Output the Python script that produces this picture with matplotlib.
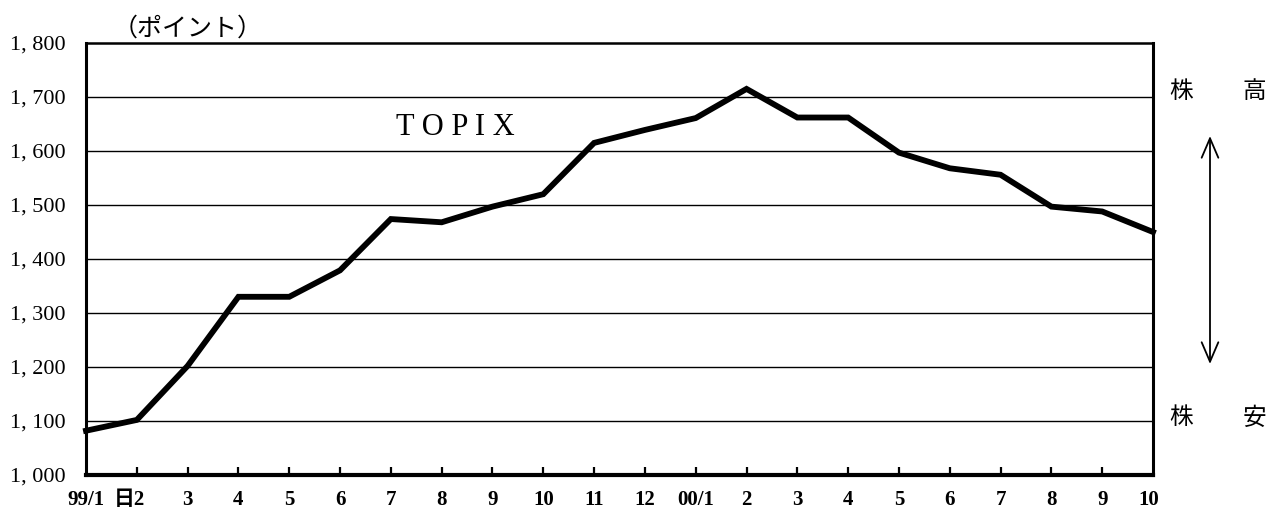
import numpy as np
import matplotlib
matplotlib.use('Agg')
import matplotlib.pyplot as plt
from matplotlib.patches import FancyArrowPatch
from matplotlib.transforms import ScaledTranslation

# TOPIX monthly values, 99/1 .. 00/10
month_labels = ['99/1', '日2', '3', '4', '5', '6', '7', '8', '9', '10', '11', '12',
                '00/1', '2', '3', '4', '5', '6', '7', '8', '9', '10']
topix = [1082, 1102, 1202, 1330, 1330, 1379, 1474, 1468, 1497, 1520, 1615, 1639,
         1661, 1715, 1662, 1662, 1597, 1568, 1556, 1497, 1488, 1450]
y_ticks = [1000, 1100, 1200, 1300, 1400, 1500, 1600, 1700, 1800]
y_tick_labels = ['1, 000', '1, 100', '1, 200', '1, 300', '1, 400', '1, 500', '1, 600', '1, 700', '1, 800']

SERIF = ['Liberation Serif', 'Noto Sans CJK JP']
JP = ['Noto Sans CJK JP', 'DejaVu Sans']


def main():
    fig = plt.figure(figsize=(12.68, 5.08), dpi=100)
    ax = fig.add_axes([86 / 1268, 1 - 475 / 508, (1153 - 86) / 1268, (475 - 43) / 508])

    x = np.arange(len(topix))
    ax.plot(x, topix, color='black', lw=4.2, solid_joinstyle='miter', zorder=3, clip_on=False)

    ax.set_xlim(0, len(topix) - 1)
    ax.set_ylim(1000, 1800)

    # horizontal grid lines
    for v in y_ticks[1:-1]:
        ax.axhline(v, color='black', lw=1.0, zorder=1)

    ax.set_yticks(y_ticks)
    ax.set_yticklabels(y_tick_labels, family=SERIF, fontsize=16)
    ax.tick_params(axis='y', length=0, pad=15)

    ax.set_xticks(x[1:-1])
    ax.set_xticklabels([])
    ax.tick_params(axis='x', direction='in', length=6, width=1.6)

    # month labels drawn as text so "日2" can sit left of its tick
    for i, lab in enumerate(month_labels):
        ha = 'center'
        dx = 0
        if i == 1:
            ha = 'right'
            dx = 8 / 100
        if i == len(month_labels) - 1:
            dx = -4 / 100
        t = ax.text(i, 0, lab, ha=ha, va='top', family=SERIF, fontsize=15,
                    fontweight='bold', transform=ax.get_xaxis_transform())
        t.set_transform(t.get_transform() + ScaledTranslation(dx, -15 / 100, fig.dpi_scale_trans))

    for side, w in [('left', 2.2), ('right', 2.2), ('top', 1.8), ('bottom', 3.0)]:
        ax.spines[side].set_linewidth(w)

    fig.text(113 / 1268, 1 - 29 / 508, '（ポイント）', family=JP, fontsize=18, ha='left', va='center')
    ax.text(6.1, 1643, 'T O P I X', ha='left', va='center', fontsize=22,
            family='Liberation Serif')

    fig.text(1181 / 1268, 1 - 92 / 508, '株', family=JP, fontsize=17, ha='center', va='center')
    fig.text(1254 / 1268, 1 - 92 / 508, '高', family=JP, fontsize=17, ha='center', va='center')
    fig.text(1181 / 1268, 1 - 418 / 508, '株', family=JP, fontsize=17, ha='center', va='center')
    fig.text(1254 / 1268, 1 - 418 / 508, '安', family=JP, fontsize=17, ha='center', va='center')
    fig.add_artist(FancyArrowPatch(
        (1210 / 1268, 1 - 136 / 508), (1210 / 1268, 1 - 364 / 508),
        transform=fig.transFigure, arrowstyle='<->,head_length=14,head_width=6',
        color='black', lw=1.3, mutation_scale=1, shrinkA=0, shrinkB=0))

    fig.savefig('out.png', dpi=100, facecolor='white')


if __name__ == '__main__':
    main()
